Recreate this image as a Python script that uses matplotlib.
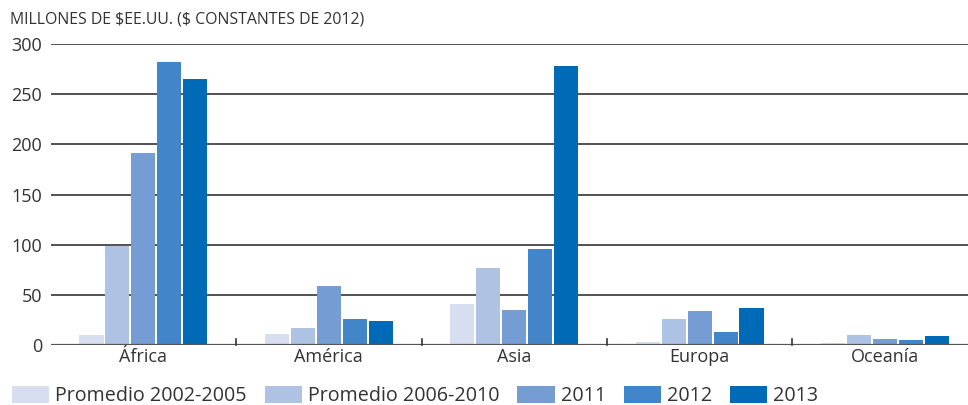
import numpy as np
import matplotlib.pyplot as plt
from matplotlib.patches import Patch

plt.rcParams['font.family'] = ['Open Sans', 'DejaVu Sans']

# Data
regions = ['África', 'América', 'Asia', 'Europa', 'Oceanía']
series_names = ['Promedio 2002-2005', 'Promedio 2006-2010', '2011', '2012', '2013']
prom_2002_2005 = [10, 11, 41, 3, 1.5]
prom_2006_2010 = [99, 17, 77, 26, 10]
v2011 = [191, 59, 35, 34, 6]
v2012 = [282, 26, 96, 13, 5]
v2013 = [265, 24, 278, 37, 9]
colors = ['#D6DEF0', '#AEC3E3', '#769DD3', '#4285C8', '#006AB6']

series = [prom_2002_2005, prom_2006_2010, v2011, v2012, v2013]

fig = plt.figure(figsize=(9.68, 4.05), dpi=100)
ax = fig.add_axes([50.7 / 968, 60 / 405, 927 / 968, 301 / 405])

x = np.arange(len(regions))
step = 0.14
width = 0.13
for i, (vals, col) in enumerate(zip(series, colors)):
    ax.bar(x + (i - 2) * step, vals, width=width, color=col, zorder=3)

ax.set_xlim(-0.5, 4.5)
ax.set_ylim(0, 300)
ax.set_yticks(np.arange(0, 301, 50))
for y in np.arange(50, 301, 50):
    ax.axhline(y, color='#222222', lw=1.1, zorder=1)
ax.axhline(0, color='#555555', lw=1.6, zorder=4)

for s in ax.spines.values():
    s.set_visible(False)

ax.tick_params(axis='y', length=0, pad=6, labelsize=13, labelcolor='#333333')
ax.set_xticks(x)
ax.set_xticklabels(regions, fontsize=13, color='#333333')
ax.tick_params(axis='x', length=0, pad=2)
# separators between categories
for b in [0.5, 1.5, 2.5, 3.5]:
    ax.plot([b, b], [0, 6], color='#333333', lw=1.2, zorder=4, clip_on=False)

fig.text(10 / 968, 1 - 19 / 405, r'MILLONES DE \$EE.UU. (\$ CONSTANTES DE 2012)',
         fontsize=11.4, color='#333333', va='center', ha='left')

handles = [Patch(facecolor=c, edgecolor='none') for c in colors]
fig.legend(handles, series_names, loc='center left', bbox_to_anchor=(12 / 968, 1 - 396 / 405),
           ncol=5, frameon=False, fontsize=14.2, handlelength=1.9, handleheight=1.0,
           handletextpad=0.3, columnspacing=0.9, borderaxespad=0, borderpad=0,
           labelcolor='#333333')

fig.savefig('out.png', dpi=100)
